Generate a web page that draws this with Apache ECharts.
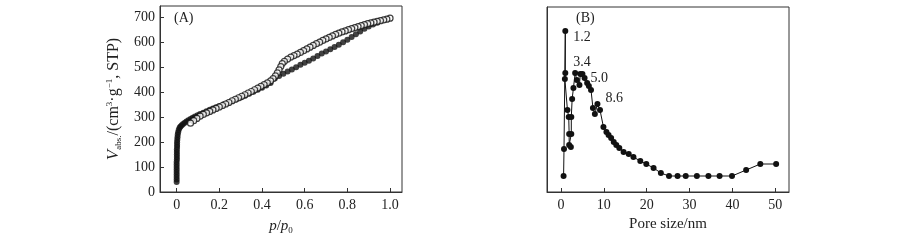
<!DOCTYPE html>
<html>
<head>
<meta charset="utf-8">
<script src="https://cdn.jsdelivr.net/npm/echarts@6/dist/echarts.min.js"></script>
<style>
html,body{margin:0;padding:0;background:#fff;}
#c{width:900px;height:243px;}
</style>
</head>
<body>
<div id="c"></div>
<script>
// ---- Panel A: N2 isotherm (p/p0, V_abs) ----
var adsorption = [
[0.000,40],[0.000,50],[0.000,60],[0.000,70],[0.000,80],[0.000,90],[0.000,100],[0.000,110],[0.000,120],
[0.001,130],[0.001,140],[0.001,150],[0.001,160],[0.001,170],[0.002,180],[0.002,190],[0.002,200],
[0.003,210],[0.004,220],[0.005,230],[0.007,240],[0.010,250],[0.014,258],[0.018,263],[0.024,268],
[0.030,273],[0.038,278],[0.046,283],[0.055,288],[0.065,293],[0.075,298],[0.086,303],[0.098,308],
[0.11,313],[0.125,318],[0.14,324],[0.155,330],[0.17,335],[0.185,340],[0.20,345],[0.22,352],[0.24,358],
[0.26,365],[0.28,372],[0.30,379],[0.32,386],[0.34,394],[0.36,402],[0.38,410],[0.40,418],[0.42,427],
[0.44,437],[0.46,455],[0.48,465],[0.50,474],[0.52,483],[0.54,491],[0.56,500],[0.58,510],[0.60,518],
[0.62,526],[0.64,535],[0.66,545],[0.68,555],[0.70,564],[0.72,573],[0.74,582],[0.76,591],[0.78,601],
[0.80,611],[0.82,622],[0.84,633],[0.86,644],[0.88,655],[0.90,664],[0.92,672],[0.94,679]
];
var desorption = [
[1.0,697],[0.985,693],[0.97,690],[0.955,687],[0.94,684],[0.925,681],[0.91,678],[0.895,675],[0.88,671],
[0.865,667],[0.85,663],[0.835,659],[0.82,655],[0.805,651],[0.79,646],[0.775,642],[0.76,637],[0.745,632],
[0.73,626],[0.715,620],[0.70,614],[0.685,608],[0.67,601],[0.655,595],[0.64,588],[0.625,581],[0.61,574],
[0.595,567],[0.58,560],[0.565,553],[0.55,547],[0.535,541],[0.52,533],[0.505,524],[0.495,515],[0.488,503],
[0.48,490],[0.472,478],[0.463,466],[0.452,455],[0.44,446],[0.425,438],[0.41,431],[0.395,424],[0.38,417],
[0.365,410],[0.35,403],[0.335,397],[0.32,390],[0.305,384],[0.29,378],[0.275,372],[0.26,366],[0.245,359],
[0.23,353],[0.215,347],[0.20,341],[0.185,335],[0.17,329],[0.155,323],[0.14,317],[0.125,311],[0.11,304],
[0.095,295],[0.08,286],[0.065,276]
];
var xTicksA = [0, 0.2, 0.4, 0.6, 0.8, 1.0];
var xTickLabelsA = ['0', '0.2', '0.4', '0.6', '0.8', '1.0'];
var yTicksA = [0, 100, 200, 300, 400, 500, 600, 700];

// ---- Panel B: pore size distribution (nm, arbitrary units) ----
var poreSize = [
0.6,0.7,1.0,1.0,0.9,1.5,1.8,1.9,1.9,2.3,2.4,2.4,2.6,2.9,3.3,3.7,4.3,4.5,5.0,5.5,6.1,6.5,7.0,7.45,7.9,8.5,9.1,
9.9,10.6,11.1,11.7,12.3,12.9,13.6,14.6,15.8,16.9,18.5,19.9,21.6,23.3,25.2,27.2,29.1,31.7,34.4,37.0,39.9,
43.2,46.5,50.2
];
var poreVolume = [
16,43,161,119,113,82,75,58,47,45,58,75,93,104,119,112,107,118,118,114,109,106,102,84,78,88,82,
65,60,57,54,50,47,44,40,38,35,31,28,24,19,16,16,16,16,16,16,16,
22,28,28
];
var xTicksB = [0, 10, 20, 30, 40, 50];
var peakLabels = ['1.2', '3.4', '5.0', '8.6'];
var peakLabelAnchors = [[4.9,155],[4.9,130],[8.9,114],[12.4,94]];

var FONT = 'Liberation Serif';
var TXT = '#222';
var AX = '#333';

var seriesB = poreSize.map(function (x, i) { return [x, poreVolume[i]]; });

var chart = echarts.init(document.getElementById('c'), null, {renderer: 'canvas'});

function axisCommon() {
  return {
    axisLine: {show: true, onZero: false, lineStyle: {color: AX, width: 1}},
    splitLine: {show: false},
    axisLabel: {color: TXT, fontFamily: FONT, fontSize: 14}
  };
}

var option = {
  animation: false,
  backgroundColor: '#fff',
  textStyle: {fontFamily: FONT},
  grid: [
    {left: 160, top: 6, width: 242, height: 186, show: true, borderColor: AX, borderWidth: 1, containLabel: false},
    {left: 547, top: 7, width: 242, height: 185, show: true, borderColor: AX, borderWidth: 1, containLabel: false}
  ],
  xAxis: [
    Object.assign(axisCommon(), {
      gridIndex: 0, type: 'value', min: -0.078, max: 1.056,
      axisTick: {show: true, inside: true, length: 4, lineStyle: {color: AX}, customValues: xTicksA},
      axisLabel: {color: TXT, fontFamily: FONT, fontSize: 14, margin: 6, customValues: xTicksA,
        formatter: function (v) { var k = xTicksA.indexOf(v); return k >= 0 ? xTickLabelsA[k] : ''; }},
      name: '{i|p}{n|/}{i|p}{sub|0}',
      nameLocation: 'middle', nameGap: 25,
      nameTextStyle: {color: TXT, fontFamily: FONT, rich: {
        i: {fontStyle: 'italic', fontSize: 15, fontFamily: FONT, color: TXT, lineHeight: 18},
        n: {fontSize: 15, fontFamily: FONT, color: TXT, lineHeight: 18},
        sub: {fontSize: 9, fontFamily: FONT, color: TXT, verticalAlign: 'bottom'}
      }}
    }),
    Object.assign(axisCommon(), {
      gridIndex: 1, type: 'value', min: -3.27, max: 53.2,
      axisTick: {show: true, inside: true, length: 4, lineStyle: {color: AX}, customValues: xTicksB},
      axisLabel: {color: TXT, fontFamily: FONT, fontSize: 14, margin: 6, customValues: xTicksB},
      name: 'Pore size/nm',
      nameLocation: 'middle', nameGap: 19,
      nameTextStyle: {color: TXT, fontFamily: FONT, fontSize: 15}
    })
  ],
  yAxis: [
    Object.assign(axisCommon(), {
      gridIndex: 0, type: 'value', min: 0, max: 746,
      axisTick: {show: true, inside: true, length: 4, lineStyle: {color: AX}, customValues: yTicksA},
      axisLabel: {color: TXT, fontFamily: FONT, fontSize: 14, margin: 5, customValues: yTicksA},
      name: '{i|V}{sub|abs.}{n|/(cm}{sup|3}{n|·g}{sup|−1}{n|, STP)}',
      nameLocation: 'middle', nameGap: 37, nameRotate: 90,
      nameTextStyle: {color: TXT, fontFamily: FONT, rich: {
        i: {fontStyle: 'italic', fontSize: 17, fontFamily: FONT, color: TXT, lineHeight: 18},
        n: {fontSize: 16, fontFamily: FONT, color: TXT, lineHeight: 18},
        sub: {fontSize: 9, fontFamily: FONT, color: TXT, verticalAlign: 'bottom'},
        sup: {fontSize: 9, fontFamily: FONT, color: TXT, verticalAlign: 'top'}
      }}
    }),
    Object.assign(axisCommon(), {
      gridIndex: 1, type: 'value', min: 0, max: 185,
      axisTick: {show: false},
      axisLabel: {show: false}
    })
  ],
  series: [
    {
      type: 'scatter', xAxisIndex: 0, yAxisIndex: 0, data: adsorption,
      symbol: 'circle', symbolSize: 6, itemStyle: {color: '#111'}
    },
    {
      type: 'scatter', xAxisIndex: 0, yAxisIndex: 0, data: desorption,
      symbol: 'circle', symbolSize: 6, itemStyle: {color: '#fff', borderColor: '#111', borderWidth: 1.2}
    },
    {
      type: 'line', xAxisIndex: 1, yAxisIndex: 1, data: seriesB,
      symbol: 'circle', symbolSize: 6, showSymbol: true,
      lineStyle: {color: '#111', width: 1}, itemStyle: {color: '#111'},
      markPoint: {
        symbol: 'circle', symbolSize: 0, silent: true,
        label: {show: true, color: TXT, fontFamily: FONT, fontSize: 14, position: 'inside'},
        data: peakLabels.map(function (t, i) {
          return {coord: peakLabelAnchors[i], value: t, label: {formatter: t}};
        })
      }
    }
  ],
  graphic: [
    {type: 'text', left: 174, top: 11, style: {text: '(A)', fill: TXT, font: '14px "Liberation Serif"'}},
    {type: 'text', left: 576, top: 11, style: {text: '(B)', fill: TXT, font: '14px "Liberation Serif"'}}
  ]
};
chart.setOption(option);
</script>
</body>
</html>
